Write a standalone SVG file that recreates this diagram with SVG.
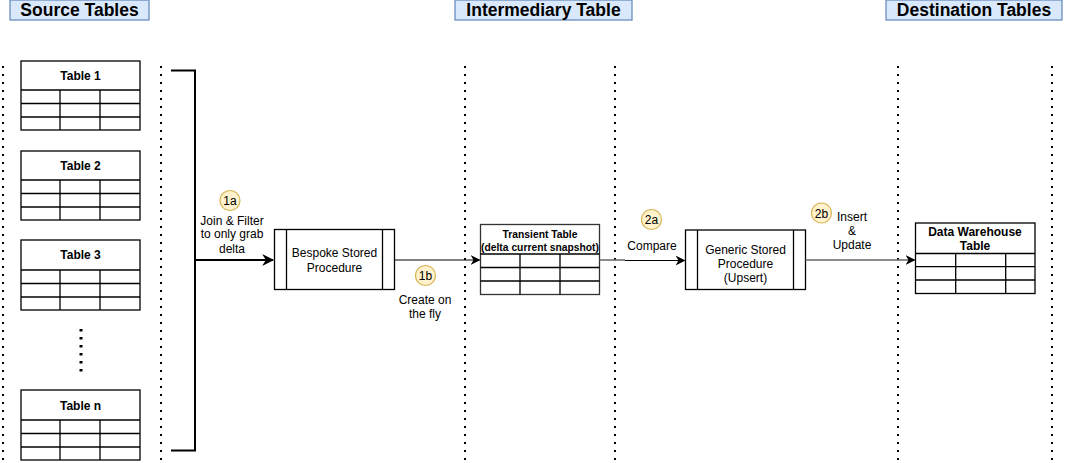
<svg xmlns="http://www.w3.org/2000/svg" width="1065" height="463" viewBox="0 0 1065 463">
<style>
text{font-family:"Liberation Sans",Arial,sans-serif;fill:#000}
.hdr rect{fill:#dae8fc;stroke:#6c8ebf;stroke-width:1.3}
.hdr text{font-size:17.5px;font-weight:bold;text-anchor:middle}
.sep{stroke:#000;stroke-width:2;stroke-dasharray:2 6}
.tbl rect,.tbl line{fill:#fff;stroke:#000;stroke-width:1.3}
.tt{font-size:12px;font-weight:bold;text-anchor:middle}
.lbl{font-size:12px;text-anchor:middle}
.proc rect,.proc line{fill:#fff;stroke:#000;stroke-width:1.3}
.badge circle{fill:#fff2cc;stroke:#d6b656;stroke-width:1.2}
.badge text{font-size:12px;text-anchor:middle}
</style>
<defs>
<marker id="ahb" viewBox="0 0 10 10" refX="9" refY="5" markerWidth="12" markerHeight="12" markerUnits="userSpaceOnUse" orient="auto"><path d="M0,0 L10,5 L0,10 L3,5 Z" fill="#000"/></marker>
<marker id="ahs" viewBox="0 0 10 10" refX="9" refY="5" markerWidth="10" markerHeight="10" markerUnits="userSpaceOnUse" orient="auto"><path d="M0,0 L10,5 L0,10 L3,5 Z" fill="#000"/></marker>
</defs>

<g id="headers" class="hdr">
<rect x="10" y="0" width="139" height="20"/><text x="79.5" y="16">Source Tables</text>
<rect x="455" y="0" width="177" height="20"/><text x="543.5" y="16">Intermediary Table</text>
<rect x="886" y="0" width="176" height="20"/><text x="974" y="16">Destination Tables</text>
</g>

<g id="separators">
<line class="sep" x1="3" y1="66" x2="3" y2="463"/>
<line class="sep" x1="161" y1="66" x2="161" y2="463"/>
<line class="sep" x1="465" y1="66" x2="465" y2="463"/>
<line class="sep" x1="615" y1="66" x2="615" y2="463"/>
<line class="sep" x1="898" y1="66" x2="898" y2="463"/>
<line class="sep" x1="1052" y1="66" x2="1052" y2="463"/>
</g>

<g id="table1" class="tbl">
<rect x="21" y="61" width="119" height="69"/>
<line x1="21" y1="90" x2="140" y2="90"/><line x1="21" y1="103.5" x2="140" y2="103.5"/><line x1="21" y1="117" x2="140" y2="117"/>
<line x1="60" y1="90" x2="60" y2="130"/><line x1="100" y1="90" x2="100" y2="130"/>
<text class="tt" x="80.5" y="80">Table 1</text>
</g>
<g id="table2" class="tbl">
<rect x="21" y="151" width="119" height="69"/>
<line x1="21" y1="180" x2="140" y2="180"/><line x1="21" y1="193.5" x2="140" y2="193.5"/><line x1="21" y1="207" x2="140" y2="207"/>
<line x1="60" y1="180" x2="60" y2="220"/><line x1="100" y1="180" x2="100" y2="220"/>
<text class="tt" x="80.5" y="170">Table 2</text>
</g>
<g id="table3" class="tbl">
<rect x="21" y="240" width="119" height="70"/>
<line x1="21" y1="270" x2="140" y2="270"/><line x1="21" y1="283.5" x2="140" y2="283.5"/><line x1="21" y1="297" x2="140" y2="297"/>
<line x1="60" y1="270" x2="60" y2="310"/><line x1="100" y1="270" x2="100" y2="310"/>
<text class="tt" x="80.5" y="259">Table 3</text>
</g>
<g id="ellipsis">
<line x1="81" y1="329" x2="81" y2="372" stroke="#000" stroke-width="3" stroke-dasharray="2.5 5.5"/>
</g>
<g id="tablen" class="tbl">
<rect x="21" y="390" width="119" height="70"/>
<line x1="21" y1="420" x2="140" y2="420"/><line x1="21" y1="433.5" x2="140" y2="433.5"/><line x1="21" y1="447" x2="140" y2="447"/>
<line x1="60" y1="420" x2="60" y2="460"/><line x1="100" y1="420" x2="100" y2="460"/>
<text class="tt" x="80.5" y="410">Table n</text>
</g>

<g id="bracket">
<path d="M171,70.5 H195 V450.5 H171" fill="none" stroke="#000" stroke-width="2"/>
</g>

<g id="bespoke" class="proc">
<rect x="274.5" y="229.5" width="120" height="60"/>
<line x1="286.5" y1="229.5" x2="286.5" y2="289.5"/><line x1="382.5" y1="229.5" x2="382.5" y2="289.5"/>
<text class="lbl" x="334.5" y="257">Bespoke Stored</text>
<text class="lbl" x="334.5" y="272">Procedure</text>
</g>

<g id="transient" class="tbl">
<rect x="480.5" y="224.5" width="119" height="70" style="stroke:#333"/>
<line x1="480.5" y1="254" x2="599.5" y2="254"/><line x1="480.5" y1="267.5" x2="599.5" y2="267.5"/><line x1="480.5" y1="281" x2="599.5" y2="281"/>
<line x1="520" y1="254" x2="520" y2="294.5"/><line x1="560" y1="254" x2="560" y2="294.5"/>
<text x="540" y="237.5" font-size="10.3" font-weight="bold" text-anchor="middle">Transient Table</text>
<text x="540" y="250.5" font-size="10.3" font-weight="bold" text-anchor="middle">(delta current snapshot)</text>
</g>

<g id="generic" class="proc">
<rect x="685.5" y="230" width="120" height="59.5"/>
<line x1="697.5" y1="230" x2="697.5" y2="289.5"/><line x1="793.5" y1="230" x2="793.5" y2="289.5"/>
<text class="lbl" x="745.5" y="254">Generic Stored</text>
<text class="lbl" x="745.5" y="268">Procedure</text>
<text class="lbl" x="745.5" y="282">(Upsert)</text>
</g>

<g id="dwtable" class="tbl">
<rect x="915.5" y="223" width="119.5" height="70.5"/>
<line x1="915.5" y1="253.5" x2="1035" y2="253.5"/><line x1="915.5" y1="266.7" x2="1035" y2="266.7"/><line x1="915.5" y1="280" x2="1035" y2="280"/>
<line x1="955.7" y1="253.5" x2="955.7" y2="293.5"/><line x1="1005.7" y1="253.5" x2="1005.7" y2="293.5"/>
<text class="tt" x="975" y="236">Data Warehouse</text>
<text class="tt" x="975" y="250">Table</text>
</g>

<g id="connectors">
<line x1="195" y1="260" x2="273" y2="260" stroke="#000" stroke-width="2" marker-end="url(#ahb)"/>
<line x1="394.5" y1="260" x2="479.5" y2="260" stroke="#000" stroke-width="1" marker-end="url(#ahs)"/>
<line x1="599.5" y1="260" x2="625" y2="260" stroke="#666" stroke-width="1.5"/>
<line x1="625" y1="260.5" x2="684.5" y2="260.5" stroke="#000" stroke-width="1" marker-end="url(#ahs)"/>
<line x1="805.5" y1="260" x2="914.5" y2="260" stroke="#666" stroke-width="1.5" marker-end="url(#ahs)"/>
</g>

<g id="labels">
<text class="lbl" x="232" y="225">Join &amp; Filter</text>
<text class="lbl" x="232" y="238">to only grab</text>
<text class="lbl" x="232" y="253">delta</text>
<text class="lbl" x="425" y="304">Create on</text>
<text class="lbl" x="425" y="318">the fly</text>
<text class="lbl" x="652" y="250">Compare</text>
<text class="lbl" x="852" y="221">Insert</text>
<text class="lbl" x="852" y="235">&amp;</text>
<text class="lbl" x="852" y="249">Update</text>
</g>

<g id="badge1a" class="badge"><circle cx="230" cy="200.5" r="10"/><text x="230" y="205">1a</text></g>
<g id="badge1b" class="badge"><circle cx="425.5" cy="275.5" r="10"/><text x="425.5" y="280">1b</text></g>
<g id="badge2a" class="badge"><circle cx="651.5" cy="219.5" r="10"/><text x="651.5" y="224">2a</text></g>
<g id="badge2b" class="badge"><circle cx="821.5" cy="213" r="10"/><text x="821.5" y="217.5">2b</text></g>
</svg>
